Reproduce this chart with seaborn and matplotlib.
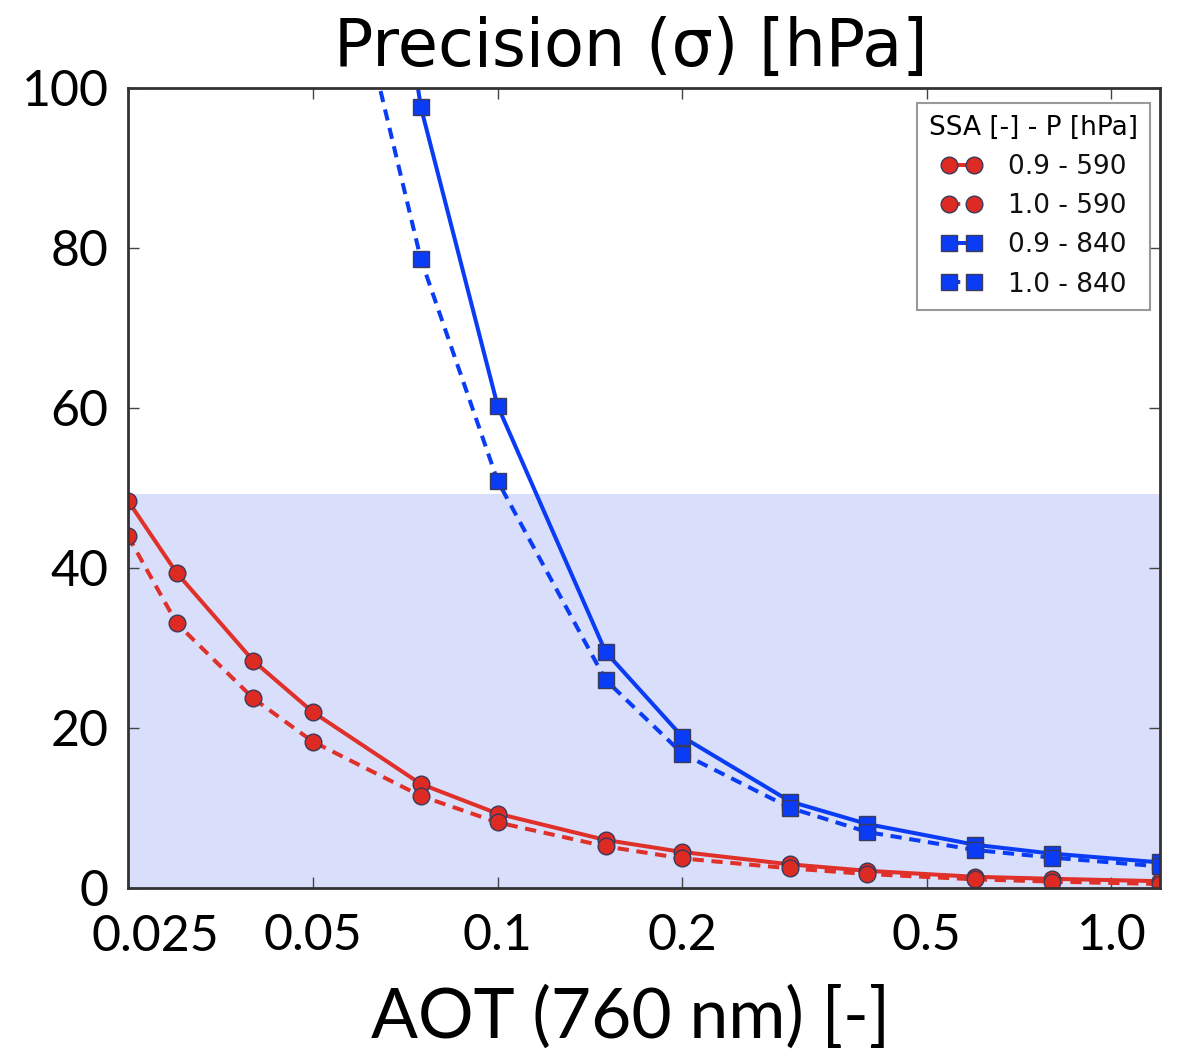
import matplotlib
matplotlib.use("Agg")
import matplotlib.pyplot as plt
import seaborn as sns
import numpy as np

# ---- data ----
aot_red = [0.025, 0.03, 0.04, 0.05, 0.075, 0.1, 0.15, 0.2, 0.3, 0.4, 0.6, 0.8, 1.2]
red_09_590 = [48.4, 39.4, 28.4, 22.0, 13.0, 9.3, 6.0, 4.5, 2.95, 2.15, 1.4, 1.15, 0.85]
red_10_590 = [44.0, 33.1, 23.7, 18.3, 11.5, 8.2, 5.2, 3.7, 2.45, 1.75, 1.08, 0.8, 0.5]

aot_blue = [0.05, 0.075, 0.1, 0.15, 0.2, 0.3, 0.4, 0.6, 0.8, 1.2]
blue_09_840 = [186.0, 97.6, 60.3, 29.5, 18.9, 10.8, 8.0, 5.4, 4.3, 3.2]
blue_10_840 = [135.0, 78.6, 50.9, 26.0, 16.8, 10.0, 7.0, 4.75, 3.8, 2.7]

labels = ["0.9 - 590", "1.0 - 590", "0.9 - 840", "1.0 - 840"]
xticks = [0.025, 0.05, 0.1, 0.2, 0.5, 1.0]
xticklabels = ["0.025", "0.05", "0.1", "0.2", "0.5", "1.0"]
yticks = [0, 20, 40, 60, 80, 100]
shade_top = 49.2

sns.set_theme(style="white")
plt.rcParams["font.family"] = ["DejaVu Sans"]
plt.rcParams["text.color"] = "black"
plt.rcParams["xtick.color"] = "black"
plt.rcParams["ytick.color"] = "black"
plt.rcParams["axes.labelcolor"] = "black"

fig = plt.figure(figsize=(11.79, 10.52), dpi=100)
ax = fig.add_axes([128/1179, 1-888/1052, (1160-128)/1179, 800/1052])

ax.axhspan(0, shade_top, color="#d9dffb", zorder=0, lw=0)

red = "#e0302a"
blue = "#0a3cf5"
common = dict(markeredgecolor="#3a3a5a", markeredgewidth=1.0, ax=ax)

series = [
    (aot_red, red_09_590, red, "o", 12, "#dd2a22", False),
    (aot_red, red_10_590, red, "o", 12, "#dd2a22", True),
    (aot_blue, blue_09_840, blue, "s", 12, "#0a3cf5", False),
    (aot_blue, blue_10_840, blue, "s", 12, "#0a3cf5", True),
]
handles = []
for (xv, yv, col, mk, ms, fc, dashed), lab in zip(series, labels):
    before = set(ax.get_lines())
    sns.lineplot(x=xv, y=yv, color=col, marker=mk, markersize=ms,
                 markerfacecolor=fc, **common)
    new = [ln for ln in ax.get_lines() if ln not in before and len(ln.get_xdata()) > 0]
    ln = new[0]
    ln.set_linewidth(2.9)
    if dashed:
        ln.set_dashes((2.8, 1.9))
    ln.set_label(lab)
    handles.append(ln)

ax.set_xscale("log")
ax.set_xlim(0.025, 1.2)
ax.set_ylim(0, 100)
ax.set_xticks(xticks)
ax.set_xticklabels([""] + xticklabels[1:])
ax.xaxis.set_minor_locator(matplotlib.ticker.NullLocator())
ax.set_yticks(yticks)

for lab in ax.get_xticklabels() + ax.get_yticklabels():
    lab.set_fontfamily("Lato")
    lab.set_fontsize(36)
    lab.set_color("black")

ax.tick_params(axis="both", which="major", direction="in", length=8, width=1,
               color="#444444", top=True, right=True, bottom=True, left=True)
ax.tick_params(axis="x", pad=18)
ax.tick_params(axis="y", pad=14)

# first x tick label, placed slightly right of its tick like the reference
ax.annotate(xticklabels[0], xy=(xticks[0], 0), xycoords=("data", "axes fraction"),
            xytext=(20, -19), textcoords="offset points", ha="center", va="top",
            fontfamily="Lato", fontsize=36, color="black")

for sp in ax.spines.values():
    sp.set_color("#333333")
    sp.set_linewidth(2)

ax.set_xlabel("AOT (760 nm) [-]", fontfamily="Lato", fontsize=50,
              color="black")
ax.xaxis.set_label_coords((631 - 128) / 1032, -0.122)
ax.set_ylabel("")
ax.set_title("Precision (σ) [hPa]", fontsize=47, pad=16, color="black",
             x=(631 - 128) / 1032)

leg = ax.legend(handles=handles, labels=labels, title="SSA [-] - P [hPa]",
                loc="upper right",
                bbox_to_anchor=(1 - 10/1032, 1 - 15/800), borderaxespad=0,
                fontsize=19, title_fontsize=19, numpoints=2, handlelength=1.55,
                fancybox=False, frameon=True, labelspacing=0.5,
                handletextpad=1.0, borderpad=0.45)
leg.get_frame().set_edgecolor("#999999")
leg.get_frame().set_linewidth(1.5)
leg.get_frame().set_facecolor("white")
leg.get_frame().set_alpha(1)
for t in leg.get_texts():
    t.set_color("#111111")

fig.savefig("out.png", dpi=100)
